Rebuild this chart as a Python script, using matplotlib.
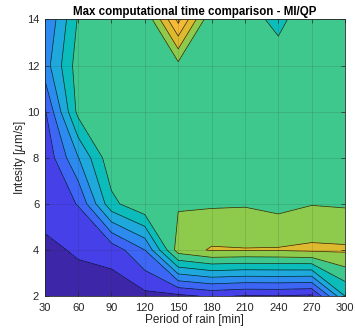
import numpy as np
import matplotlib
matplotlib.use("Agg")
import matplotlib.pyplot as plt
from matplotlib.colors import ListedColormap, BoundaryNorm

# period of rain [min] and intensity [um/s]
period = [30, 60, 90, 120, 150, 180, 210, 240, 270, 300]
intensity = [2, 4, 6, 8, 10, 12, 14]

# max computational time ratio (rows = intensity, cols = period)
ratio_2 = [0.30, 0.65, 0.50, 0.73, 0.75, 1.15, 0.92, 0.95, 0.80, 5.00]
ratio_4 = [0.83, 1.09, 1.35, 3.00, 7.50, 8.10, 8.05, 8.08, 8.20, 8.15]
ratio_6 = [1.30, 2.05, 5.70, 6.90, 6.90, 6.88, 6.92, 6.70, 6.96, 6.89]
ratio_8 = [1.20, 3.95, 6.75, 6.60, 6.50, 6.50, 6.50, 6.50, 6.50, 6.50]
ratio_10 = [1.85, 6.30, 6.60, 6.50, 6.50, 6.50, 6.50, 6.50, 6.50, 6.50]
ratio_12 = [3.50, 6.50, 6.50, 6.50, 6.70, 6.50, 6.50, 6.53, 6.50, 6.50]
ratio_14 = [2.93, 6.10, 6.50, 6.05, 10.3, 6.05, 6.47, 5.70, 6.80, 6.50]

levels = [-1, 1, 2, 3, 4, 5, 6, 7, 8, 9, 10, 12]
band_colors = ["#3e26a8", "#4640e8", "#3d66f5", "#2d8aee", "#1ea8dc", "#0cbcba",
               "#3ec88e", "#8eca4c", "#deba30", "#f5ba38", "#fdcd3a"]

Z = np.array([ratio_2, ratio_4, ratio_6, ratio_8, ratio_10, ratio_12, ratio_14])
X, Y = np.meshgrid(period, intensity)

plt.rcParams['font.family'] = ['Liberation Sans', 'DejaVu Sans']
fig = plt.figure(figsize=(3.55, 3.35), dpi=100)
ax = fig.add_axes([0.126, 0.116, 0.846, 0.826])

cmap = ListedColormap(band_colors)
norm = BoundaryNorm(levels, cmap.N)
ax.contourf(X, Y, Z, levels=levels, cmap=cmap, norm=norm)
ax.contour(X, Y, Z, levels=levels[1:-1], colors="black", linewidths=0.5, alpha=0.8)

ax.set_xlim(30, 300)
ax.set_ylim(2, 14)
ax.set_xticks(period)
ax.set_yticks(intensity)
ax.tick_params(direction="in", length=3, width=0.5, labelsize=8, colors="#262626",
               top=True, right=True)
ax.tick_params(axis="x", pad=5)
ax.tick_params(axis="y", pad=4)
ax.set_axisbelow(False)
ax.grid(True, color="#262626", alpha=0.15, linewidth=0.6)
for s in ax.spines.values():
    s.set_color("#262626")
    s.set_linewidth(0.6)

ax.set_title("Max computational time comparison - MI/QP", fontsize=8.3, fontweight="bold", pad=3)
ax.set_xlabel("Period of rain [min]", fontsize=8.5, color="#262626", labelpad=1)
ax.set_ylabel(r"Intesity [$\mu$m/s]", fontsize=8.5, color="#262626", labelpad=-1)

fig.savefig("out.png", dpi=100)
